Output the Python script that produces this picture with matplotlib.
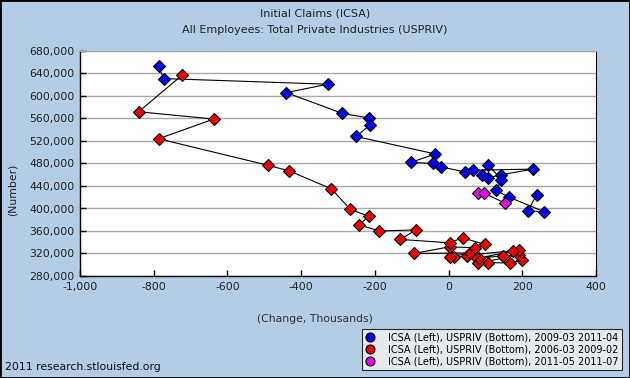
import matplotlib
matplotlib.use("Agg")
import matplotlib.pyplot as plt
from matplotlib.lines import Line2D
from matplotlib.patches import Rectangle
from matplotlib.ticker import FuncFormatter, MultipleLocator

# ---- data (x: USPRIV change, thousands; y: ICSA, number) ----
red_x = [199, 166, 108, 80, 190, 149, 82, 190, 175, 68, 49, 15, 3, 59, -94,
         3, 72, 98, 38, 3, -131, -88, -188, -242, -217, -267, -318, -433,
         -491, -787, -637, -841, -723]
red_y = [308000, 303000, 304000, 303000, 317000, 316000, 312000, 326000,
         325000, 318000, 315000, 313000, 314000, 321000, 320000, 332000,
         330000, 336000, 348000, 339000, 345000, 362000, 360000, 371000,
         386000, 399000, 435000, 467000, 477000, 524000, 559000, 572000,
         637000]

blue_x = [-787, -773, -328, -440, -288, -217, -214, -251, -36, -102, -42,
          -21, 45, 66, 229, 143, 108, 91, 108, 143, 129, 165, 260, 215, 239]
blue_y = [653000, 631000, 621000, 606000, 569000, 561000, 548000, 528000,
          497000, 482000, 480000, 474000, 465000, 468000, 470000, 460000,
          455000, 460000, 478000, 451000, 432000, 420000, 394000, 396000,
          424000]

mag_x = [79, 97, 152]
mag_y = [427000, 427000, 410000]

labels = ["ICSA (Left), USPRIV (Bottom), 2009-03 2011-04",
          "ICSA (Left), USPRIV (Bottom), 2006-03 2009-02",
          "ICSA (Left), USPRIV (Bottom), 2011-05 2011-07"]
colors = ["#0000EE", "#EE0000", "#EE00EE"]

title1 = "Initial Claims (ICSA)"
title2 = "All Employees: Total Private Industries (USPRIV)"
xlabel = "(Change, Thousands)"
ylabel = "(Number)"
source = "2011 research.stlouisfed.org"

plt.rcParams['font.family'] = ['DejaVu Sans']

W, H = 630, 378
fig = plt.figure(figsize=(W / 100, H / 100), dpi=100)
bg = "#B4CDE5"
fig.patch.set_facecolor(bg)

ax = fig.add_axes([80 / W, 1 - 276 / H, 516 / W, 225 / H])
ax.set_facecolor("white")
ax.set_xlim(-1000, 400)
ax.set_ylim(280000, 680000)
ax.xaxis.set_major_locator(MultipleLocator(200))
ax.yaxis.set_major_locator(MultipleLocator(40000))
ax.xaxis.set_major_formatter(FuncFormatter(lambda v, p: f"{v:,.0f}"))
ax.yaxis.set_major_formatter(FuncFormatter(lambda v, p: f"{v:,.0f}"))
ax.grid(axis='y', color="#A8A8A8", linewidth=1.0)
ax.set_axisbelow(True)
ax.tick_params(axis='both', direction='in', length=4, width=1,
               labelsize=7.8, colors='black', labelcolor='#222222', pad=4)
for s in ['left', 'bottom']:
    ax.spines[s].set_color('black')
    ax.spines[s].set_linewidth(1.0)
ax.spines['top'].set_color('#A8A8A8')
ax.spines['right'].set_color('black')

for xs, ys, c in [(red_x, red_y, colors[1]), (blue_x, blue_y, colors[0]),
                  (mag_x, mag_y, colors[2])]:
    ax.plot(xs, ys, color='black', linewidth=0.8, zorder=2)
    ax.plot(xs, ys, linestyle='none', marker='D', markersize=5.8,
            markerfacecolor=c, markeredgecolor='black', markeredgewidth=0.8,
            zorder=3)

fig.text(315 / W, 1 - 14 / H, title1, ha='center', va='center', fontsize=8, color='#222222')
fig.text(315 / W, 1 - 30 / H, title2, ha='center', va='center', fontsize=8, color='#222222')
fig.text(315 / W, 1 - 319 / H, xlabel, ha='center', va='center', fontsize=7.8, color='#333333')
fig.text(13 / W, 1 - 190 / H, ylabel, ha='center', va='center', fontsize=7.8,
         rotation=90, color='#222222')
fig.text(5 / W, 1 - 367 / H, source, ha='left', va='center', fontsize=7.8, color='#111111')

handles = [Line2D([], [], linestyle='none', marker='o', markersize=6.5,
                  markerfacecolor=c, markeredgecolor='black', markeredgewidth=0.8)
           for c in colors]
leg = fig.legend(handles, labels, loc='lower right',
                 bbox_to_anchor=(627 / W, 3 / H), fontsize=7,
                 frameon=True, fancybox=False, borderpad=0.35,
                 labelspacing=0.2, handletextpad=1.4, handlelength=1.0)
leg.get_frame().set_facecolor('#F2F2F2')
leg.get_frame().set_edgecolor('black')
leg.get_frame().set_linewidth(0.8)

fig.patches.append(Rectangle((0, 0), 1, 1, transform=fig.transFigure,
                             fill=False, edgecolor='black', linewidth=2))

fig.savefig("out.png", dpi=100, facecolor=bg)
